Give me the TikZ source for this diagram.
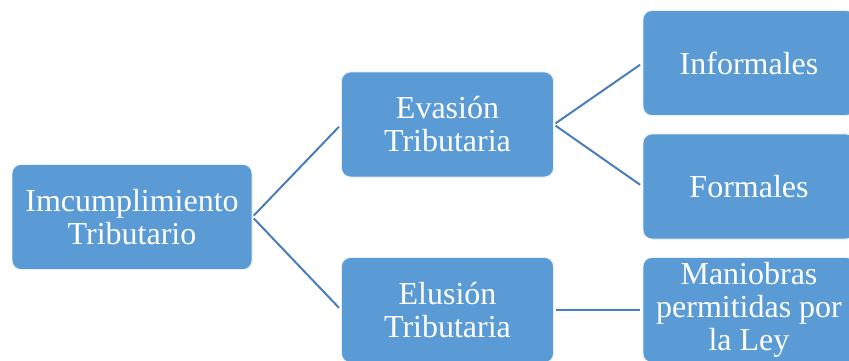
\documentclass[tikz,border=0pt]{standalone}
\usepackage{fontspec}
\setmainfont{Liberation Serif}
\definecolor{boxblue}{HTML}{5B9BD5}
\definecolor{lineblue}{HTML}{4A7EBB}
\begin{document}
\begin{tikzpicture}[x=1pt,y=1pt,
  box/.style={draw=white!85!boxblue, line width=0.8pt, fill=boxblue, rounded corners=9pt,
    minimum height=105pt, inner sep=0pt, align=center, text=white,
    font=\fontsize{32}{33}\selectfont},
  link/.style={draw=lineblue, line width=2pt}]
\useasboundingbox (0,0) rectangle (849,360);
\clip (0,0) rectangle (849,360);
\fill[white] (0,0) rectangle (849,360);
\node[box, minimum width=240pt] (a) at (132,143) {Imcumplimiento\\Tributario};
\node[box, minimum width=212pt] (b) at (447.5,235.5) {Evasión\\Tributaria};
\node[box, minimum width=212pt] (c) at (447.5,50) {Elusión\\Tributaria};
\node[box, minimum width=212pt] (d) at (749,297) {Informales};
\node[box, minimum width=212pt] (e) at (749,173.5) {Formales};
\node[box, minimum width=212pt] (f) at (749,50) {Maniobras\\permitidas por\\la Ley};
\draw[link, shorten <=2pt, shorten >=3pt] (a.east) -- (b.west);
\draw[link, shorten <=2pt, shorten >=3pt] (a.east) -- (c.west);
\draw[link, shorten <=2pt, shorten >=3pt] (b.east) -- (d.west);
\draw[link, shorten <=2pt, shorten >=3pt] (b.east) -- (e.west);
\draw[link, shorten <=2pt, shorten >=3pt] (c.east) -- (f.west);
\end{tikzpicture}
\end{document}
